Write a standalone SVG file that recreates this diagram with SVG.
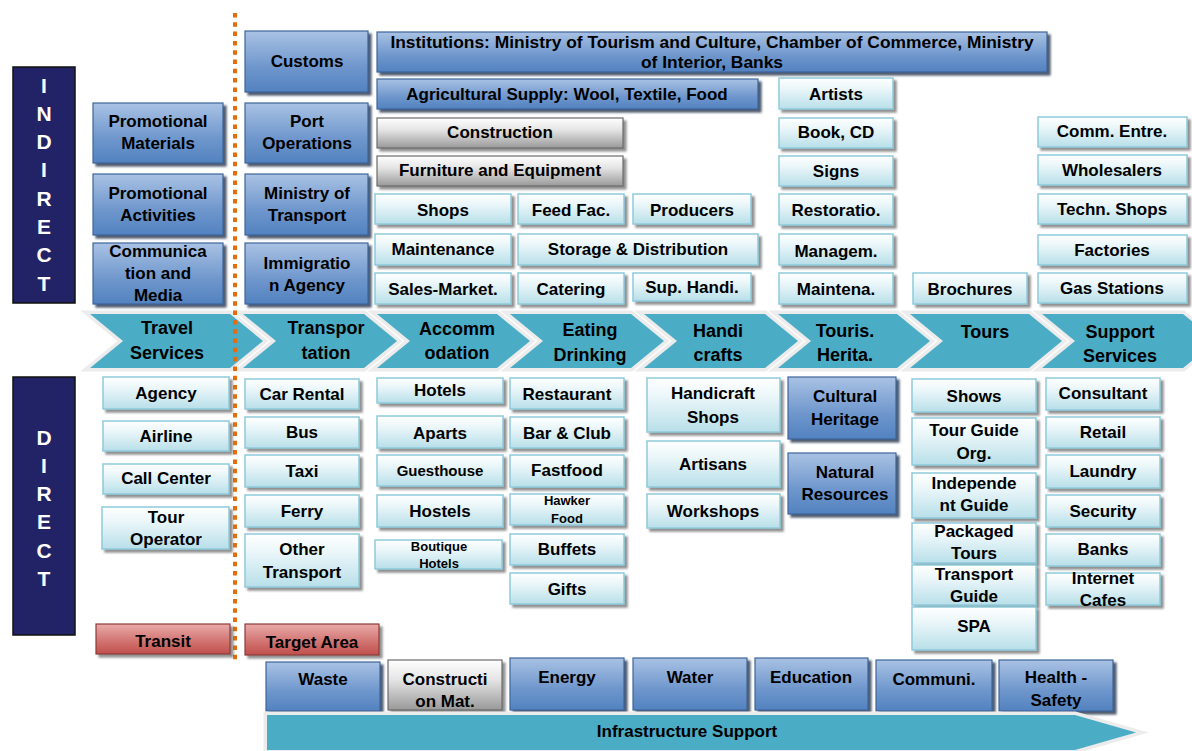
<svg xmlns="http://www.w3.org/2000/svg" width="1192" height="751" viewBox="0 0 1192 751">
  <defs>
    <linearGradient id="gBlue" x1="0" y1="0" x2="0" y2="1">
      <stop offset="0" stop-color="#a9c2e4"/>
      <stop offset="0.6" stop-color="#6e96cc"/>
      <stop offset="1" stop-color="#5282c0"/>
    </linearGradient>
    <linearGradient id="gLight" x1="0" y1="0" x2="0" y2="1">
      <stop offset="0" stop-color="#ffffff"/>
      <stop offset="0.35" stop-color="#eaf6f9"/>
      <stop offset="1" stop-color="#b8dfe9"/>
    </linearGradient>
    <linearGradient id="gGrey" x1="0" y1="0" x2="0" y2="1">
      <stop offset="0" stop-color="#ffffff"/>
      <stop offset="0.4" stop-color="#e4e4e4"/>
      <stop offset="1" stop-color="#999999"/>
    </linearGradient>
    <linearGradient id="gRed" x1="0" y1="0" x2="0" y2="1">
      <stop offset="0" stop-color="#e9abaa"/>
      <stop offset="0.6" stop-color="#d0716e"/>
      <stop offset="1" stop-color="#c0504d"/>
    </linearGradient>
    <filter id="shadow" x="-10%" y="-10%" width="130%" height="140%">
      <feDropShadow dx="3" dy="3" stdDeviation="0.8" flood-color="#6d6d6d" flood-opacity="0.75"/>
    </filter>
    <filter id="shadowDark" x="-10%" y="-10%" width="130%" height="140%">
      <feDropShadow dx="3" dy="3" stdDeviation="0.8" flood-color="#2e3d52" flood-opacity="0.85"/>
    </filter>
  </defs>
  <style>
    text { font-family: "Liberation Sans", Arial, sans-serif; font-weight: bold; text-anchor: middle; fill: #000; font-size: 17px; }
    .db { fill: url(#gBlue); stroke: #3c659a; stroke-width: 1.2; filter: url(#shadowDark); }
    .lb { fill: url(#gLight); stroke: #8fcadb; stroke-width: 1.5; filter: url(#shadow); }
    .gb { fill: url(#gGrey); stroke: #6b6b6b; stroke-width: 1.2; filter: url(#shadow); }
    .rb { fill: url(#gRed); stroke: #8c3a38; stroke-width: 1.2; filter: url(#shadow); }
    .panel { fill: #222266; stroke: #111111; stroke-width: 1.5; }
    .pl { fill: #ffffff; font-size: 21px; }
    .chev { fill: #4bacc6; stroke: #ececec; stroke-width: 7; stroke-linejoin: miter; stroke-miterlimit: 10; paint-order: stroke; }
    .ct { font-size: 18px; }
    .sm { font-size: 13px; }
    .md { font-size: 15px; }
    .lg { font-size: 17.4px; }
    .divider { stroke: #e46c0a; stroke-width: 4; stroke-dasharray: 4.5 4.8; fill: none; }
  </style>

  <rect width="1192" height="751" fill="#ffffff"/>

  <!-- Side panels -->
  <g id="indirect-panel">
    <rect class="panel" x="13" y="67" width="62" height="236"/>
    <text class="pl" x="44" y="92.5">I</text>
    <text class="pl" x="44" y="120.8">N</text>
    <text class="pl" x="44" y="149.1">D</text>
    <text class="pl" x="44" y="177.4">I</text>
    <text class="pl" x="44" y="205.7">R</text>
    <text class="pl" x="44" y="234">E</text>
    <text class="pl" x="44" y="262.3">C</text>
    <text class="pl" x="44" y="290.6">T</text>
  </g>
  <g id="direct-panel">
    <rect class="panel" x="13" y="377" width="62" height="258"/>
    <text class="pl" x="44" y="444.5">D</text>
    <text class="pl" x="44" y="472.8">I</text>
    <text class="pl" x="44" y="501.1">R</text>
    <text class="pl" x="44" y="529.4">E</text>
    <text class="pl" x="44" y="557.7">C</text>
    <text class="pl" x="44" y="586">T</text>
  </g>

  <!-- Value chain stages -->
  <g id="process-flow">
    <g id="stage-travel-services">
      <polygon class="chev" points="90,314 230,314 263,341 230,368 90,368 123,341"/>
      <text class="ct" x="167" y="334">Travel</text>
      <text class="ct" x="167" y="358.5">Services</text>
    </g>
    <g id="stage-transportation">
      <polygon class="chev" points="243,314 364,314 397,341 364,368 243,368 276,341"/>
      <text class="ct" x="326" y="334">Transpor</text>
      <text class="ct" x="326" y="358.5">tation</text>
    </g>
    <g id="stage-accommodation">
      <polygon class="chev" points="377,314 497,314 530,341 497,368 377,368 410,341"/>
      <text class="ct" x="457" y="335">Accomm</text>
      <text class="ct" x="457" y="359">odation</text>
    </g>
    <g id="stage-eating-drinking">
      <polygon class="chev" points="510,314 631,314 664,341 631,368 510,368 543,341"/>
      <text class="ct" x="590" y="336">Eating</text>
      <text class="ct" x="590" y="360.5">Drinking</text>
    </g>
    <g id="stage-handicrafts">
      <polygon class="chev" points="644,314 765,314 798,341 765,368 644,368 677,341"/>
      <text class="ct" x="718" y="336.5">Handi</text>
      <text class="ct" x="718" y="360.5">crafts</text>
    </g>
    <g id="stage-tourist-heritage">
      <polygon class="chev" points="778,314 897,314 930,341 897,368 778,368 811,341"/>
      <text class="ct" x="845" y="336.5">Touris.</text>
      <text class="ct" x="845" y="360.5">Herita.</text>
    </g>
    <g id="stage-tours">
      <polygon class="chev" points="910,314 1029,314 1062,341 1029,368 910,368 943,341"/>
      <text class="ct" x="985" y="337.5">Tours</text>
    </g>
    <g id="stage-support-services">
      <polygon class="chev" points="1042,314 1183,314 1216,341 1183,368 1042,368 1075,341"/>
      <text class="ct" x="1120" y="337.5">Support</text>
      <text class="ct" x="1120" y="361.5">Services</text>
    </g>
  </g>

  <!-- Border between transit and target area -->
  <g id="divider">
    <line class="divider" x1="235" y1="13" x2="235" y2="660"/>
  </g>

  <!-- Indirect: travel services -->
  <g id="promotional-materials"><rect class="db" x="93" y="103" width="130" height="60"/><text x="158" y="127">Promotional</text><text x="158" y="149">Materials</text></g>
  <g id="promotional-activities"><rect class="db" x="93" y="174" width="130" height="61"/><text x="158" y="199">Promotional</text><text x="158" y="221">Activities</text></g>
  <g id="communication-media"><rect class="db" x="93" y="243" width="130" height="61"/><text x="158" y="257">Communica</text><text x="158" y="279">tion and</text><text x="158" y="301">Media</text></g>

  <!-- Indirect: transportation -->
  <g id="customs"><rect class="db" x="245" y="31" width="123" height="61"/><text x="307" y="67">Customs</text></g>
  <g id="port-operations"><rect class="db" x="245" y="103" width="123" height="60"/><text x="307" y="127">Port</text><text x="307" y="149">Operations</text></g>
  <g id="ministry-of-transport"><rect class="db" x="245" y="174" width="123" height="61"/><text x="307" y="199">Ministry of</text><text x="307" y="221">Transport</text></g>
  <g id="immigration-agency"><rect class="db" x="245" y="243" width="123" height="61"/><text x="307" y="269">Immigratio</text><text x="307" y="291">n Agency</text></g>

  <!-- Indirect: shared suppliers -->
  <g id="institutions"><rect class="db" x="377" y="32" width="670" height="40"/><text class="lg" x="712" y="48">Institutions: Ministry of Tourism and Culture, Chamber of Commerce, Ministry</text><text class="lg" x="712" y="68">of Interior, Banks</text></g>
  <g id="agricultural-supply"><rect class="db" x="377" y="79" width="381" height="30"/><text x="567" y="100">Agricultural Supply: Wool, Textile, Food</text></g>
  <g id="construction"><rect class="gb" x="377" y="118" width="246" height="30"/><text x="500" y="138">Construction</text></g>
  <g id="furniture-equipment"><rect class="gb" x="377" y="156" width="246" height="30"/><text x="500" y="176">Furniture and Equipment</text></g>
  <g id="shops"><rect class="lb" x="375" y="194" width="136" height="30"/><text x="443" y="216">Shops</text></g>
  <g id="feed-fac"><rect class="lb" x="518" y="194" width="106" height="30"/><text x="571" y="216">Feed Fac.</text></g>
  <g id="producers"><rect class="lb" x="633" y="194" width="118" height="30"/><text x="692" y="216">Producers</text></g>
  <g id="maintenance"><rect class="lb" x="375" y="234" width="136" height="31"/><text x="443" y="255">Maintenance</text></g>
  <g id="storage-distribution"><rect class="lb" x="518" y="234" width="240" height="31"/><text x="638" y="255">Storage &amp; Distribution</text></g>
  <g id="sales-market"><rect class="lb" x="375" y="273" width="136" height="31"/><text x="443" y="295">Sales-Market.</text></g>
  <g id="catering"><rect class="lb" x="518" y="273" width="106" height="31"/><text x="571" y="295">Catering</text></g>
  <g id="sup-handi"><rect class="lb" x="633" y="273" width="118" height="28"/><text x="692" y="293">Sup. Handi.</text></g>

  <!-- Indirect: tourist heritage -->
  <g id="artists"><rect class="lb" x="779" y="78" width="114" height="31"/><text x="836" y="100">Artists</text></g>
  <g id="book-cd"><rect class="lb" x="779" y="118" width="114" height="30"/><text x="836" y="138">Book, CD</text></g>
  <g id="signs"><rect class="lb" x="779" y="156" width="114" height="30"/><text x="836" y="177">Signs</text></g>
  <g id="restoration"><rect class="lb" x="779" y="194" width="114" height="31"/><text x="836" y="216">Restoratio.</text></g>
  <g id="management"><rect class="lb" x="779" y="234" width="114" height="31"/><text x="836" y="257">Managem.</text></g>
  <g id="maintena"><rect class="lb" x="779" y="273" width="114" height="31"/><text x="836" y="295">Maintena.</text></g>

  <!-- Indirect: tours -->
  <g id="brochures"><rect class="lb" x="913" y="273" width="114" height="31"/><text x="970" y="295">Brochures</text></g>

  <!-- Indirect: support services -->
  <g id="comm-entre"><rect class="lb" x="1038" y="117" width="149" height="30"/><text x="1112" y="137">Comm. Entre.</text></g>
  <g id="wholesalers"><rect class="lb" x="1038" y="155" width="149" height="30"/><text x="1112" y="176">Wholesalers</text></g>
  <g id="techn-shops"><rect class="lb" x="1038" y="194" width="149" height="30"/><text x="1112" y="215">Techn. Shops</text></g>
  <g id="factories"><rect class="lb" x="1038" y="235" width="149" height="30"/><text x="1112" y="256">Factories</text></g>
  <g id="gas-stations"><rect class="lb" x="1038" y="273" width="149" height="30"/><text x="1112" y="294">Gas Stations</text></g>

  <!-- Direct: travel services -->
  <g id="agency"><rect class="lb" x="103" y="377" width="126" height="32"/><text x="166" y="399">Agency</text></g>
  <g id="airline"><rect class="lb" x="103" y="421" width="126" height="30"/><text x="166" y="442">Airline</text></g>
  <g id="call-center"><rect class="lb" x="103" y="464" width="126" height="30"/><text x="166" y="484">Call Center</text></g>
  <g id="tour-operator"><rect class="lb" x="102" y="507" width="127" height="42"/><text x="166" y="523">Tour</text><text x="166" y="545">Operator</text></g>
  <g id="transit"><rect class="rb" x="96" y="624" width="134" height="30"/><text x="163" y="647">Transit</text></g>

  <!-- Direct: transportation -->
  <g id="car-rental"><rect class="lb" x="245" y="379" width="114" height="30"/><text x="302" y="400">Car Rental</text></g>
  <g id="bus"><rect class="lb" x="245" y="417" width="114" height="31"/><text x="302" y="438">Bus</text></g>
  <g id="taxi"><rect class="lb" x="245" y="455" width="114" height="32"/><text x="302" y="477">Taxi</text></g>
  <g id="ferry"><rect class="lb" x="245" y="495" width="114" height="32"/><text x="302" y="517">Ferry</text></g>
  <g id="other-transport"><rect class="lb" x="245" y="534" width="114" height="53"/><text x="302" y="555">Other</text><text x="302" y="578">Transport</text></g>
  <g id="target-area"><rect class="rb" x="245" y="624" width="134" height="31"/><text x="312" y="648">Target Area</text></g>

  <!-- Direct: accommodation -->
  <g id="hotels"><rect class="lb" x="377" y="378" width="126" height="25"/><text x="440" y="396">Hotels</text></g>
  <g id="aparts"><rect class="lb" x="377" y="416" width="126" height="32"/><text x="440" y="439">Aparts</text></g>
  <g id="guesthouse"><rect class="lb" x="377" y="455" width="126" height="31"/><text class="md" x="440" y="476">Guesthouse</text></g>
  <g id="hostels"><rect class="lb" x="377" y="495" width="126" height="32"/><text x="440" y="517">Hostels</text></g>
  <g id="boutique-hotels"><rect class="lb" x="375" y="540" width="127" height="29"/><text class="sm" x="439" y="551">Boutique</text><text class="sm" x="439" y="568">Hotels</text></g>

  <!-- Direct: eating and drinking -->
  <g id="restaurant"><rect class="lb" x="510" y="378" width="114" height="31"/><text x="567" y="400">Restaurant</text></g>
  <g id="bar-club"><rect class="lb" x="510" y="417" width="114" height="31"/><text x="567" y="439">Bar &amp; Club</text></g>
  <g id="fastfood"><rect class="lb" x="510" y="455" width="114" height="32"/><text x="567" y="476">Fastfood</text></g>
  <g id="hawker-food"><rect class="lb" x="510" y="494" width="114" height="31"/><text class="sm" x="567" y="505">Hawker</text><text class="sm" x="567" y="523">Food</text></g>
  <g id="buffets"><rect class="lb" x="510" y="534" width="114" height="31"/><text x="567" y="555">Buffets</text></g>
  <g id="gifts"><rect class="lb" x="510" y="573" width="114" height="31"/><text x="567" y="595">Gifts</text></g>

  <!-- Direct: handicrafts -->
  <g id="handicraft-shops"><rect class="lb" x="647" y="378" width="133" height="54"/><text x="713" y="399">Handicraft</text><text x="713" y="423">Shops</text></g>
  <g id="artisans"><rect class="lb" x="647" y="441" width="133" height="46"/><text x="713" y="470">Artisans</text></g>
  <g id="workshops"><rect class="lb" x="647" y="494" width="133" height="34"/><text x="713" y="517">Workshops</text></g>

  <!-- Direct: tourist heritage -->
  <g id="cultural-heritage"><rect class="db" x="788" y="377" width="108" height="62"/><text x="845" y="402">Cultural</text><text x="845" y="425">Heritage</text></g>
  <g id="natural-resources"><rect class="db" x="788" y="453" width="108" height="61"/><text x="845" y="478">Natural</text><text x="845" y="500">Resources</text></g>

  <!-- Direct: tours -->
  <g id="shows"><rect class="lb" x="912" y="379" width="124" height="33"/><text x="974" y="402">Shows</text></g>
  <g id="tour-guide-org"><rect class="lb" x="912" y="418" width="124" height="47"/><text x="974" y="436">Tour Guide</text><text x="974" y="459">Org.</text></g>
  <g id="independent-guide"><rect class="lb" x="912" y="473" width="124" height="45"/><text x="974" y="489">Independe</text><text x="974" y="511">nt Guide</text></g>
  <g id="packaged-tours"><rect class="lb" x="912" y="523" width="124" height="40"/><text x="974" y="537">Packaged</text><text x="974" y="559">Tours</text></g>
  <g id="transport-guide"><rect class="lb" x="912" y="565" width="124" height="40"/><text x="974" y="580">Transport</text><text x="974" y="602">Guide</text></g>
  <g id="spa"><rect class="lb" x="912" y="607" width="124" height="43"/><text x="974" y="632">SPA</text></g>

  <!-- Direct: support services -->
  <g id="consultant"><rect class="lb" x="1046" y="378" width="114" height="32"/><text x="1103" y="399">Consultant</text></g>
  <g id="retail"><rect class="lb" x="1046" y="417" width="114" height="31"/><text x="1103" y="438">Retail</text></g>
  <g id="laundry"><rect class="lb" x="1046" y="455" width="114" height="33"/><text x="1103" y="477">Laundry</text></g>
  <g id="security"><rect class="lb" x="1046" y="495" width="114" height="32"/><text x="1103" y="517">Security</text></g>
  <g id="banks"><rect class="lb" x="1046" y="534" width="114" height="32"/><text x="1103" y="555">Banks</text></g>
  <g id="internet-cafes"><rect class="lb" x="1046" y="573" width="114" height="32"/><text x="1103" y="584">Internet</text><text x="1103" y="606">Cafes</text></g>

  <!-- Infrastructure -->
  <g id="waste"><rect class="db" x="266" y="662" width="114" height="49"/><text x="323" y="685">Waste</text></g>
  <g id="construction-mat"><rect class="gb" x="388" y="660" width="114" height="50"/><text x="445" y="685">Constructi</text><text x="445" y="707">on Mat.</text></g>
  <g id="energy"><rect class="db" x="510" y="658" width="114" height="52"/><text x="567" y="683">Energy</text></g>
  <g id="water"><rect class="db" x="633" y="658" width="114" height="52"/><text x="690" y="683">Water</text></g>
  <g id="education"><rect class="db" x="755" y="658" width="113" height="52"/><text x="811" y="683">Education</text></g>
  <g id="communi"><rect class="db" x="876" y="660" width="116" height="51"/><text x="934" y="685">Communi.</text></g>
  <g id="health-safety"><rect class="db" x="999" y="660" width="114" height="51"/><text x="1056" y="683">Health -</text><text x="1056" y="706">Safety</text></g>

  <g id="infrastructure-support">
    <polygon class="chev" points="267,715 1075,715 1136,732.5 1075,750 267,750"/>
    <text x="687" y="737">Infrastructure Support</text>
  </g>
</svg>
